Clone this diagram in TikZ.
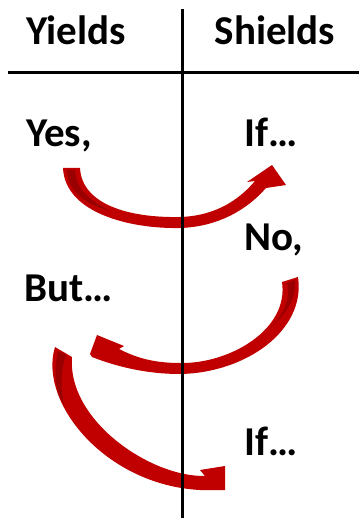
\documentclass[tikz,border=0pt]{standalone}
\usepackage{fontspec}
\setmainfont{Carlito}
\definecolor{arrowred}{RGB}{192,0,0}
\definecolor{arrowdark}{RGB}{155,0,0}
\begin{document}
\begin{tikzpicture}[x=1pt,y=-1pt,
  lbl/.style={font=\fontsize{41}{48}\selectfont\bfseries, inner sep=0pt, anchor=base west},
  rule/.style={line width=3.2pt, black},
  arrowbody/.style={fill=arrowred, draw=none},
  arrowshade/.style={fill=arrowdark, draw=none}]
\useasboundingbox (0,0) rectangle (359,518);
% arrow 1: Yes -> If
\fill[arrowbody] (63,168) .. controls (65,213) and (130,229) .. (180,228) .. controls (216,227) and (246,211) .. (266,188) -- (286,185) -- (272,165) -- (247,182) -- (255,181) .. controls (239,200) and (215,216) .. (180,217) .. controls (130,218) and (82,205) .. (80,168) -- cycle;
\fill[arrowshade] (67,170) .. controls (68,192) and (85,204) .. (110,211) .. controls (90,200) and (76,190) .. (75,170) -- cycle;
% arrow 2: No -> But
\fill[arrowbody] (298,277) .. controls (306,331) and (245,373) .. (180,374) .. controls (145,374) and (115,366) .. (92,357) -- (90,354) -- (97,335) -- (124,346) -- (119,349) .. controls (133,356) and (150,363) .. (180,363) .. controls (229,364) and (289,330) .. (282,282) -- cycle;
\fill[arrowshade] (287,283) .. controls (291,300) and (283,316) .. (268,330) .. controls (287,313) and (296,300) .. (295,280) -- cycle;
% arrow 3: But -> If
\fill[arrowbody] (55,347) .. controls (38,402) and (105,485) .. (200,490) -- (225,490) -- (225,466) -- (200,470) -- (205,476) .. controls (150,477) and (67,420) .. (72,357) -- cycle;
\fill[arrowshade] (58,351) .. controls (53,375) and (56,392) .. (64,405) .. controls (61,390) and (60,372) .. (66,355) -- cycle;
% rules
\coordinate (vtop) at (182.5,9);
\coordinate (vbot) at (182.5,518);
\coordinate (hl) at (8,72.5);
\coordinate (hr) at (359,72.5);
\draw[rule] (vtop) -- (vbot);
\draw[rule] (hl) -- (hr);
% labels
\node[lbl] (yields) at (26,45) {Yields};
\node[lbl] (shields) at (214.5,45) {Shields};
\node[lbl] (yes) at (26,147) {Yes,};
\node[lbl] (if1) at (244,147) {If…};
\node[lbl] (no) at (244,250) {No,};
\node[lbl] (but) at (24,301) {But…};
\node[lbl] (if2) at (244,455) {If…};
\end{tikzpicture}
\end{document}
